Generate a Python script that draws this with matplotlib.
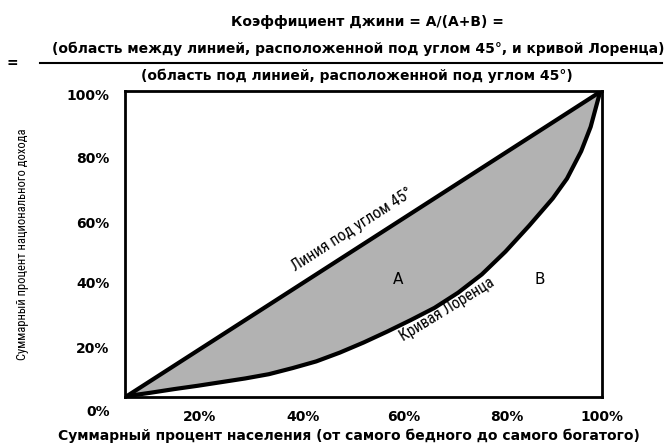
import matplotlib
matplotlib.use('Agg')
import matplotlib.pyplot as plt
from matplotlib.lines import Line2D

# population share (%) and cumulative income share (%)
pop = [0, 5, 10, 15, 20, 25, 30, 35, 40, 45, 50, 55, 60, 65, 70, 75, 80, 85, 90, 93, 96, 98, 100]
lorenz = [0, 1.1, 2.3, 3.4, 4.6, 5.8, 7.2, 9.2, 11.4, 14.3, 17.6, 21.2, 25.0, 29.0,
          34.0, 40.0, 47.5, 56.0, 65.0, 71.5, 80.5, 88.5, 100]
equality = [0, 100]

xtick_pos = [15.4, 37.2, 58.6, 80.3, 100.4]
xtick_lab = ['20%', '40%', '60%', '80%', '100%']
ytick_pos = [16.1, 37.2, 57.2, 78.3, 99.0]
ytick_lab = ['20%', '40%', '60%', '80%', '100%']

narrow = ['Roboto Condensed', 'PT Sans Narrow', 'Fira Sans Condensed', 'DejaVu Sans']

fig = plt.figure(figsize=(6.65, 4.44), dpi=100)
ax = fig.add_axes([125/665, 47/444, 477/665, 306/444])

ax.fill_between(pop, pop, lorenz, color='#b2b2b2', lw=0)
ax.plot(equality, equality, color='black', lw=3, solid_capstyle='round')
ax.plot(pop, lorenz, color='black', lw=3, solid_joinstyle='round', solid_capstyle='round')

ax.set_xlim(-0.4, 100.4)
ax.set_ylim(-0.3, 100.3)
for s in ax.spines.values():
    s.set_linewidth(2)

ax.set_xticks(xtick_pos)
ax.set_xticklabels(xtick_lab, fontsize=10, fontweight='bold')
ax.set_yticks(ytick_pos)
ax.set_yticklabels(ytick_lab, fontsize=10, fontweight='bold')
ax.tick_params(axis='both', length=0)
ax.tick_params(axis='x', pad=9)
ax.tick_params(axis='y', pad=11)
ax.annotate('0%', xy=(0, 0), xycoords='axes fraction', xytext=(-11, -11),
            textcoords='offset points', ha='right', va='center',
            fontsize=10, fontweight='bold')

ax.set_xlabel('Суммарный процент населения (от самого бедного до самого богатого)',
              fontsize=10, fontweight='bold')
ax.xaxis.set_label_coords(0.47, -0.105)
ax.set_ylabel('Суммарный процент национального дохода', family=narrow, fontsize=9)
ax.yaxis.set_label_coords(-0.202, 0.5)

ax.text(57.3, 38.2, 'A', fontsize=11, ha='center', va='center')
ax.text(87.3, 38.2, 'B', fontsize=11, ha='center', va='center')
ax.text(47.6, 54.6, 'Линия под углом 45°', family=narrow,
        fontsize=11.7, rotation=32.7, ha='center', va='center', rotation_mode='anchor')
ax.text(67.7, 28.6, 'Кривая Лоренца', family=narrow,
        fontsize=11.3, rotation=31.5, ha='center', va='center', rotation_mode='anchor')

# formula heading
fig.text(367/665, 1 - 22/444, 'Коэффициент Джини = A/(A+B) =', ha='center', va='center',
         fontsize=10, fontweight='bold')
fig.text(358/665, 1 - 49/444,
         '(область между линией, расположенной под углом 45°, и кривой Лоренца)',
         ha='center', va='center', fontsize=10, fontweight='bold')
fig.text(357/665, 1 - 76/444, '(область под линией, расположенной под углом 45°)',
         ha='center', va='center', fontsize=10, fontweight='bold')
fig.text(12/665, 1 - 63/444, '=', ha='center', va='center', fontsize=10, fontweight='bold')
fig.add_artist(Line2D([40/665, 662/665], [1 - 63/444, 1 - 63/444], color='black', lw=1.5))

fig.savefig('out.png', dpi=100)
